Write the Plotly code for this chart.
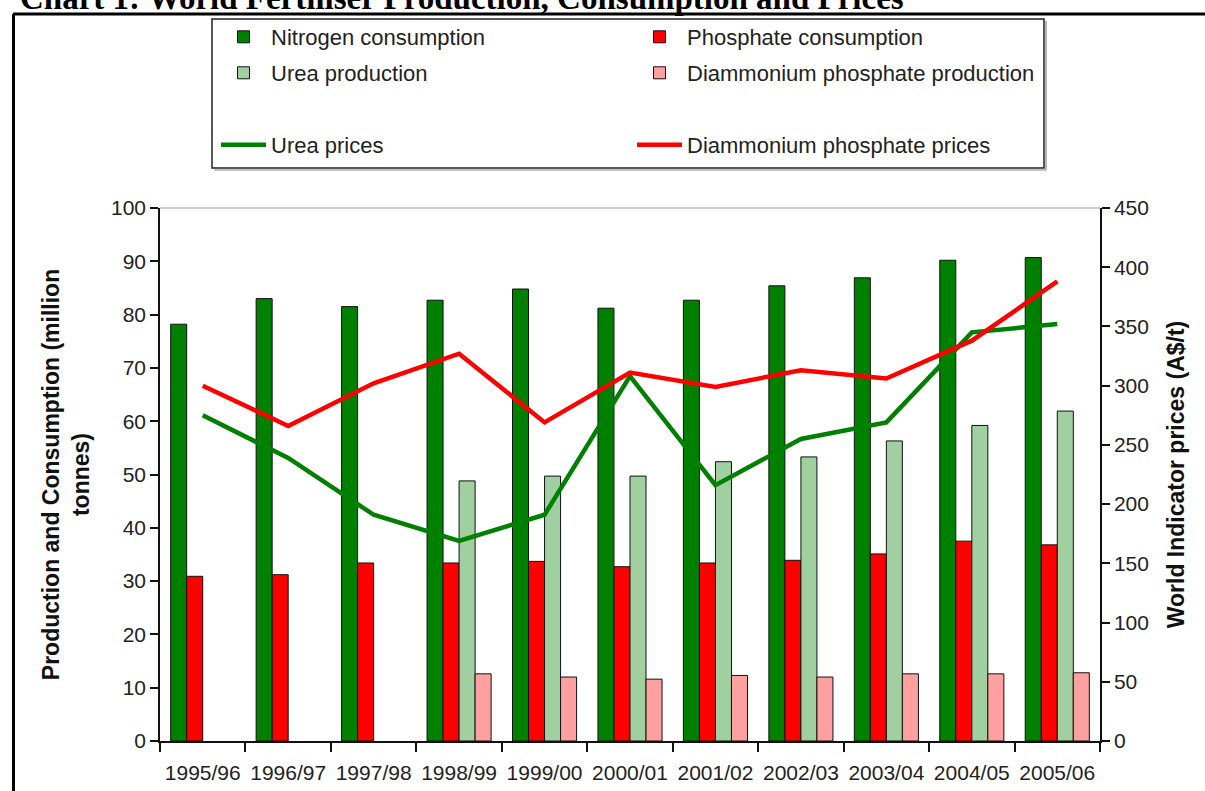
import plotly.graph_objects as go

categories = ["1995/96", "1996/97", "1997/98", "1998/99", "1999/00", "2000/01",
              "2001/02", "2002/03", "2003/04", "2004/05", "2005/06"]
nitrogen_consumption = [78.2, 83.0, 81.5, 82.7, 84.8, 81.2, 82.7, 85.4, 86.9, 90.2, 90.7]
phosphate_consumption = [30.9, 31.2, 33.4, 33.4, 33.7, 32.7, 33.4, 33.9, 35.1, 37.5, 36.8]
urea_production = [None, None, None, 48.8, 49.7, 49.7, 52.4, 53.3, 56.3, 59.2, 61.9]
dap_production = [None, None, None, 12.6, 12.0, 11.6, 12.3, 12.0, 12.6, 12.6, 12.8]
urea_prices = [275, 239, 191, 169, 191, 308, 216, 255, 269, 345, 352]
dap_prices = [300, 266, 302, 327, 269, 311, 299, 313, 306, 338, 388]

W, H = 1205, 791
ML, MR, MT, MB = 160, 105, 208, 50
PW, PH = W - ML - MR, H - MT - MB


def px(x):
    return (x - ML) / PW


def py(y):
    return (H - MB - y) / PH


FONT = "Liberation Sans, Arial, sans-serif"
TXT = "#222222"

fig = go.Figure()
bar_line = dict(color="#111111", width=1)
fig.add_trace(go.Bar(x=categories, y=nitrogen_consumption, name="Nitrogen consumption",
                     marker=dict(color="#008000", line=bar_line), legend="legend"))
fig.add_trace(go.Bar(x=categories, y=phosphate_consumption, name="Phosphate consumption",
                     marker=dict(color="#ff0000", line=bar_line), legend="legend2"))
fig.add_trace(go.Bar(x=categories, y=urea_production, name="Urea production",
                     marker=dict(color="#a0d0a0", line=bar_line), legend="legend3"))
fig.add_trace(go.Bar(x=categories, y=dap_production, name="Diammonium phosphate production",
                     marker=dict(color="#ffa0a0", line=bar_line), legend="legend4"))
fig.add_trace(go.Scatter(x=categories, y=urea_prices, name="Urea prices", yaxis="y2",
                         mode="lines", line=dict(color="#008000", width=4.5), legend="legend5"))
fig.add_trace(go.Scatter(x=categories, y=dap_prices, name="Diammonium phosphate prices", yaxis="y2",
                         mode="lines", line=dict(color="#ff0000", width=4.5), legend="legend6"))

leg_common = dict(orientation="h", xanchor="left", yanchor="middle", itemwidth=45,
                  font=dict(family=FONT, size=22, color=TXT), bgcolor="rgba(0,0,0,0)",
                  borderwidth=0, itemclick=False, itemdoubleclick=False)
col1, col2 = px(216), px(632)
row1, row2, row4 = py(37), py(73), py(145)

axis_font = dict(family=FONT, size=21, color=TXT)
title_font = dict(family=FONT, size=23, color="#111111")
n = len(categories)

fig.update_layout(
    width=W, height=H,
    margin=dict(l=ML, r=MR, t=MT, b=MB, autoexpand=False),
    paper_bgcolor="white", plot_bgcolor="white",
    barmode="group", bargap=0.25, bargroupgap=0,
    showlegend=True,
    legend=dict(leg_common, x=col1, y=row1),
    legend2=dict(leg_common, x=col2, y=row1),
    legend3=dict(leg_common, x=col1, y=row2),
    legend4=dict(leg_common, x=col2, y=row2),
    legend5=dict(leg_common, x=col1, y=row4),
    legend6=dict(leg_common, x=col2, y=row4),
    xaxis=dict(type="category", categoryorder="array", categoryarray=categories,
               tickson="boundaries", ticks="outside", ticklen=9, tickwidth=1.5,
               tickcolor="#111111", showline=True, linecolor="#111111", linewidth=1.5,
               showgrid=False, tickfont=axis_font, tickangle=0, zeroline=False,
               ticklabelstandoff=12),
    xaxis2=dict(type="linear", overlaying="x", anchor="y", side="bottom",
                range=[-0.5, n - 0.5], tickmode="array",
                tickvals=[i - 0.5 for i in range(n + 1)], ticks="inside", ticklen=7,
                tickwidth=1.5, tickcolor="#111111", showticklabels=False,
                showline=False, showgrid=False, zeroline=False),
    yaxis=dict(range=[0, 100], dtick=10, ticks="outside", ticklen=8, tickwidth=1.5,
               tickcolor="#111111", showline=True, linecolor="#111111", linewidth=1.5,
               showgrid=False, zeroline=False, tickfont=axis_font,
               title=dict(text="<b>Production and Consumption (million<br>tonnes)</b>",
                          font=title_font, standoff=15)),
    yaxis2=dict(range=[0, 450], dtick=50, overlaying="y", side="right", ticks="outside",
                ticklen=8, tickwidth=1.5, tickcolor="#111111", showline=True,
                linecolor="#111111", linewidth=1.5, showgrid=False, zeroline=False,
                tickfont=axis_font,
                title=dict(text="<b>World Indicator prices (A$/t)</b>", font=title_font,
                           standoff=20)),
    yaxis3=dict(range=[0, 100], dtick=10, overlaying="y", side="left", ticks="inside",
                ticklen=7, tickwidth=1.5, tickcolor="#111111", showticklabels=False,
                showline=False, showgrid=False, zeroline=False),
    yaxis4=dict(range=[0, 450], dtick=50, overlaying="y", side="right", ticks="inside",
                ticklen=7, tickwidth=1.5, tickcolor="#111111", showticklabels=False,
                showline=False, showgrid=False, zeroline=False),
    shapes=[
        # top border of plot area
        dict(type="line", xref="paper", yref="paper", x0=0, x1=1, y0=1, y1=1,
             line=dict(color="#999999", width=1.2)),
        # legend box
        dict(type="rect", xref="paper", yref="paper", x0=px(212), x1=px(1044),
             y0=py(168), y1=py(19), line=dict(color="#222222", width=1.5)),
        dict(type="line", xref="paper", yref="paper", x0=px(214), x1=px(1046),
             y0=py(170), y1=py(170), line=dict(color="#888888", width=1.2)),
        dict(type="line", xref="paper", yref="paper", x0=px(1046), x1=px(1046),
             y0=py(170), y1=py(21), line=dict(color="#888888", width=1.2)),
        # page frame
        dict(type="line", xref="paper", yref="paper", x0=px(13), x1=px(1210),
             y0=py(14), y1=py(14), line=dict(color="#000000", width=3)),
        dict(type="line", xref="paper", yref="paper", x0=px(13.5), x1=px(13.5),
             y0=py(14), y1=py(800), line=dict(color="#000000", width=3)),
    ],
    annotations=[
        dict(text="<b>Chart 1: World Fertiliser Production, Consumption and Prices</b>",
             xref="paper", yref="paper", x=px(18), y=py(18), xanchor="left",
             yanchor="bottom", showarrow=False,
             font=dict(family="Liberation Serif, Times New Roman, serif", size=33,
                       color="#000000")),
    ],
)

fig.write_html("out.html", config={"displayModeBar": False},
               post_script="document.body.style.margin='0px';")
